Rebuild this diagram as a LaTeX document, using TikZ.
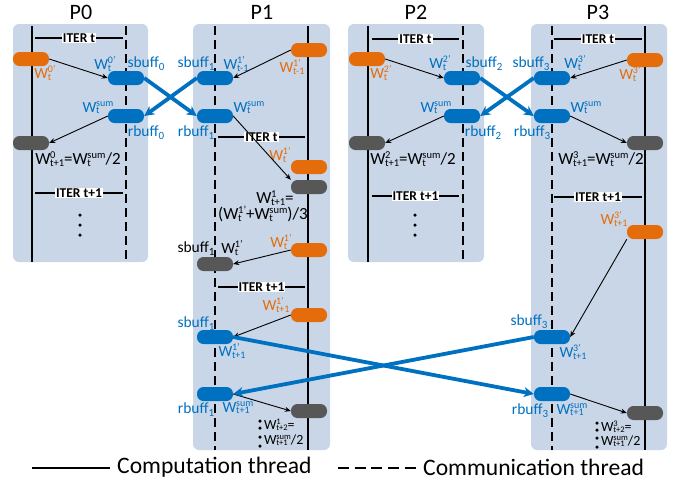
\documentclass[tikz,border=0pt]{standalone}
\usepackage{fontspec}
\setmainfont{Carlito}
\usetikzlibrary{arrows.meta}
\definecolor{panel}{HTML}{C9D6E7}
\definecolor{orng}{HTML}{E46C0A}
\definecolor{blu}{HTML}{0070C0}
\definecolor{gry}{HTML}{575757}
\def\scrsize{10}
\newcommand\scr{\fontsize{\scrsize}{\scrsize}\selectfont}
\newsavebox\wsup
\newsavebox\wsub
\newcommand\Wl[2]{\mbox{W\kern-0.3pt\sbox\wsup{\scr #1}\sbox\wsub{\scr #2}%
 \ifdim\wd\wsup>\wd\wsub\dimen0=\wd\wsup\else\dimen0=\wd\wsub\fi
 \makebox[\dimen0][l]{\rlap{\raisebox{0.36em}{\usebox\wsup}}\raisebox{-0.1em}{\usebox\wsub}}}}
\newcommand\buf[2]{\mbox{#1\raisebox{-0.2em}{\fontsize{11}{11}\selectfont #2}}}
\begin{document}
\begin{tikzpicture}[x=1pt,y=-1pt,
 panelbox/.style={fill=panel, rounded corners=6pt, draw=none},
 comp/.style={line width=2.4pt},
 comm/.style={line width=2.4pt, dash pattern=on 9pt off 5pt},
 iterline/.style={line width=2pt},
 iterlab/.style={fill=white, inner sep=1pt, font=\bfseries\fontsize{13.5}{13.5}\selectfont},
 pill/.style={rounded corners=6.5pt, minimum width=36pt, minimum height=14pt, inner sep=0pt},
 opill/.style={pill, fill=orng},
 bpill/.style={pill, fill=blu},
 gpill/.style={pill, fill=gry},
 lab/.style={inner sep=0pt, font=\fontsize{15.5}{15.5}\selectfont\def\scrsize{10}},
 olab/.style={lab, text=orng},
 blab/.style={lab, text=blu},
 klab/.style={lab, text=black},
 formula/.style={inner sep=0pt, font=\fontsize{17}{17}\selectfont\def\scrsize{10.5}},
 small/.style={inner sep=0pt, font=\fontsize{14}{14}\selectfont\def\scrsize{8.5}, anchor=west},
 title/.style={anchor=base, font=\fontsize{22}{22}\selectfont},
 karrow/.style={-{Stealth[length=6pt,width=5pt]}, line width=0.9pt},
 xarrow/.style={-{Stealth[length=10pt,width=10pt]}, line width=3.8pt, draw=blu},
 dotc/.style={circle, fill=black, inner sep=0pt, minimum size=3.5pt},
 legtext/.style={anchor=west, inner sep=0pt, font=\fontsize{23.6}{23.6}\selectfont}
]
\useasboundingbox (0,0) rectangle (678,485);
% panels
\fill[panelbox] (13,24) rectangle (148,262);
\fill[panelbox] (193,24) rectangle (330,450);
\fill[panelbox] (348,24) rectangle (484,262);
\fill[panelbox] (531,24) rectangle (667,450);
% titles
\node[title] (t0) at (81,19.5) {P0};
\node[title] (t1) at (262,19.5) {P1};
\node[title] (t2) at (416,19.5) {P2};
\node[title] (t3) at (598,19.5) {P3};
% threads
\draw[comp] (32,26) -- (32,262);
\draw[comm] (126,26) -- (126,262);
\draw[comm] (215,26) -- (215,450);
\draw[comp] (308,26) -- (308,450);
\draw[comp] (368,26) -- (368,262);
\draw[comm] (463,26) -- (463,262);
\draw[comm] (552,26) -- (552,450);
\draw[comp] (645,26) -- (645,450);
% iter markers
\draw[iterline] (35,38) -- node[iterlab] {ITER t} (123,38);
\draw[iterline] (35,193) -- node[iterlab] {ITER t+1} (123,193);
\draw[iterline] (218,137) -- node[iterlab] {ITER t} (305,137);
\draw[iterline] (218,287) -- node[iterlab] {ITER t+1} (305,287);
\draw[iterline] (372,39) -- node[iterlab] {ITER t} (459,39);
\draw[iterline] (372,196) -- node[iterlab] {ITER t+1} (459,196);
\draw[iterline] (554,39) -- node[iterlab] {ITER t} (642,39);
\draw[iterline] (554,197) -- node[iterlab] {ITER t+1} (642,197);
% ---------- P0
\node[opill] (o0) at (31,59) {};
\node[olab] (o0l) at (45,73) {\Wl{0'}{t}};
\node[bpill] (s0) at (126,78) {};
\node[blab] (s0w) at (105,64) {\Wl{0'}{t}};
\node[blab] (s0n) at (146,64) {\buf{sbuff}{0}};
\node[bpill] (r0) at (126,116) {};
\node[blab] (r0w) at (98,108) {\Wl{sum}{t}};
\node[blab] (r0n) at (146,133) {\buf{rbuff}{0}};
\node[gpill] (g0) at (31,143) {};
\node[formula] (f0) at (78,159) {\Wl{0}{t+1}=\Wl{sum}{t}/2};
\node[dotc] (d0a) at (80,215) {};
\node[dotc] (d0b) at (80,225) {};
\node[dotc] (d0c) at (80,235) {};
% ---------- P1
\node[opill] (o1a) at (309,50) {};
\node[olab] (o1al) at (292,67) {\Wl{1'}{t-1}};
\node[bpill] (s1) at (215,78) {};
\node[blab] (s1n) at (196,64) {\buf{sbuff}{1}};
\node[blab] (s1w) at (236,64) {\Wl{1'}{t-1}};
\node[bpill] (r1) at (215,116) {};
\node[blab] (r1n) at (196,133) {\buf{rbuff}{1}};
\node[blab] (r1w) at (249,108) {\Wl{sum}{t}};
\node[olab] (o1bl) at (280,155) {\Wl{1'}{t}};
\node[opill] (o1b) at (309,167) {};
\node[gpill] (g1a) at (309,187) {};
\node[formula] (f1a) at (275,198) {\Wl{1}{t+1}=};
\node[formula] (f1b) at (263,214) {(\Wl{1'}{t}+\Wl{sum}{t})/3};
\node[olab] (o1cl) at (281,242) {\Wl{1'}{t}};
\node[opill] (o1c) at (309,250) {};
\node[gpill] (g1b) at (215,264) {};
\node[klab] (g1bn) at (196,249) {\buf{sbuff}{1}};
\node[klab] (g1bw) at (232,248) {\Wl{1'}{t}};
\node[olab] (o1dl) at (276,305) {\Wl{1'}{t+1}};
\node[opill] (o1d) at (309,315) {};
\node[bpill] (s1b) at (215,337) {};
\node[blab] (s1bn) at (196,324) {\buf{sbuff}{1}};
\node[blab] (s1bw) at (232,351) {\Wl{1'}{t+1}};
\node[bpill] (r1b) at (215,394) {};
\node[blab] (r1bn) at (196,410) {\buf{rbuff}{1}};
\node[blab] (r1bw) at (238,408) {\Wl{sum}{t+1}};
\node[gpill] (g1c) at (309,411) {};
\node[small] (f1c) at (264,425) {\Wl{1}{t+2}=};
\node[small] (f1d) at (264,440) {\Wl{sum}{t+1}/2};
\node[dotc] (d1a) at (260,421) {};
\node[dotc] (d1b) at (260,428) {};
\node[dotc] (d1c) at (260,437) {};
\node[dotc] (d1d) at (260,446) {};
% ---------- P2
\node[opill] (o2) at (367,59) {};
\node[olab] (o2l) at (381,73) {\Wl{2'}{t}};
\node[bpill] (s2) at (462,78) {};
\node[blab] (s2w) at (440,63) {\Wl{2'}{t}};
\node[blab] (s2n) at (484,64) {\buf{sbuff}{2}};
\node[bpill] (r2) at (462,116) {};
\node[blab] (r2w) at (436,108) {\Wl{sum}{t}};
\node[blab] (r2n) at (483,133) {\buf{rbuff}{2}};
\node[gpill] (g2) at (367,143) {};
\node[formula] (f2) at (413,159) {\Wl{2}{t+1}=\Wl{sum}{t}/2};
\node[dotc] (d2a) at (415,215) {};
\node[dotc] (d2b) at (415,225) {};
\node[dotc] (d2c) at (415,235) {};
% ---------- P3
\node[opill] (o3) at (645,60) {};
\node[olab] (o3l) at (630,74) {\Wl{3'}{t}};
\node[bpill] (s3) at (552,78) {};
\node[blab] (s3n) at (531,64) {\buf{sbuff}{3}};
\node[blab] (s3w) at (575,63) {\Wl{3'}{t}};
\node[bpill] (r3) at (552,116) {};
\node[blab] (r3n) at (532,133) {\buf{rbuff}{3}};
\node[blab] (r3w) at (586,108) {\Wl{sum}{t}};
\node[gpill] (g3) at (645,143) {};
\node[formula] (f3) at (601,159) {\Wl{3}{t+1}=\Wl{sum}{t}/2};
\node[olab] (o3bl) at (614,219) {\Wl{3'}{t+1}};
\node[opill] (o3b) at (645,232) {};
\node[bpill] (s3b) at (552,337) {};
\node[blab] (s3bn) at (529,322) {\buf{sbuff}{3}};
\node[blab] (s3bw) at (573,352) {\Wl{3'}{t+1}};
\node[bpill] (r3b) at (552,394) {};
\node[blab] (r3bn) at (530,411) {\buf{rbuff}{3}};
\node[blab] (r3bw) at (572,410) {\Wl{sum}{t+1}};
\node[gpill] (g3b) at (645,413) {};
\node[small] (f3c) at (601,427) {\Wl{3}{t+2}=};
\node[small] (f3d) at (601,441) {\Wl{sum}{t+1}/2};
\node[dotc] (d3a) at (597,423) {};
\node[dotc] (d3b) at (597,430) {};
\node[dotc] (d3c) at (597,438) {};
\node[dotc] (d3d) at (597,447) {};
% ---------- local arrows
\draw[karrow] (o0.east) -- (s0.west);
\draw[karrow] (r0.west) -- (g0.east);
\draw[karrow] (o1a.west) -- (s1.east);
\draw[karrow] (r1.east) -- (g1a.north west);
\draw[karrow] (o1c.west) -- (g1b.east);
\draw[karrow] (o1d.west) -- (s1b.east);
\draw[karrow] (r1b.east) -- (g1c.west);
\draw[karrow] (o2.east) -- (s2.west);
\draw[karrow] (r2.west) -- (g2.east);
\draw[karrow] (o3.west) -- (s3.east);
\draw[karrow] (r3.east) -- (g3.west);
\draw[karrow] (o3b.south west) -- (s3b.east);
\draw[karrow] (r3b.east) -- (g3b.west);
% ---------- exchanges
\draw[xarrow] (s0.east) -- (r1.west);
\draw[xarrow] (s1.west) -- (r0.east);
\draw[xarrow] (s2.east) -- (r3.west);
\draw[xarrow] (s3.west) -- (r2.east);
\draw[xarrow] (s1b.east) -- (r3b.west);
\draw[xarrow] (s3b.west) -- (r1b.east);
% ---------- legend
\coordinate (la) at (32,468);
\coordinate (lb) at (110,468);
\coordinate (lc) at (338,468);
\coordinate (ld) at (416,468);
\draw[line width=2.2pt] (la) -- (lb);
\node[legtext] (lt1) at (117,467) {Computation thread};
\draw[line width=2.2pt, dash pattern=on 11pt off 5.7pt] (lc) -- (ld);
\node[legtext] (lt2) at (423,467) {Communication thread};
\end{tikzpicture}
\end{document}
